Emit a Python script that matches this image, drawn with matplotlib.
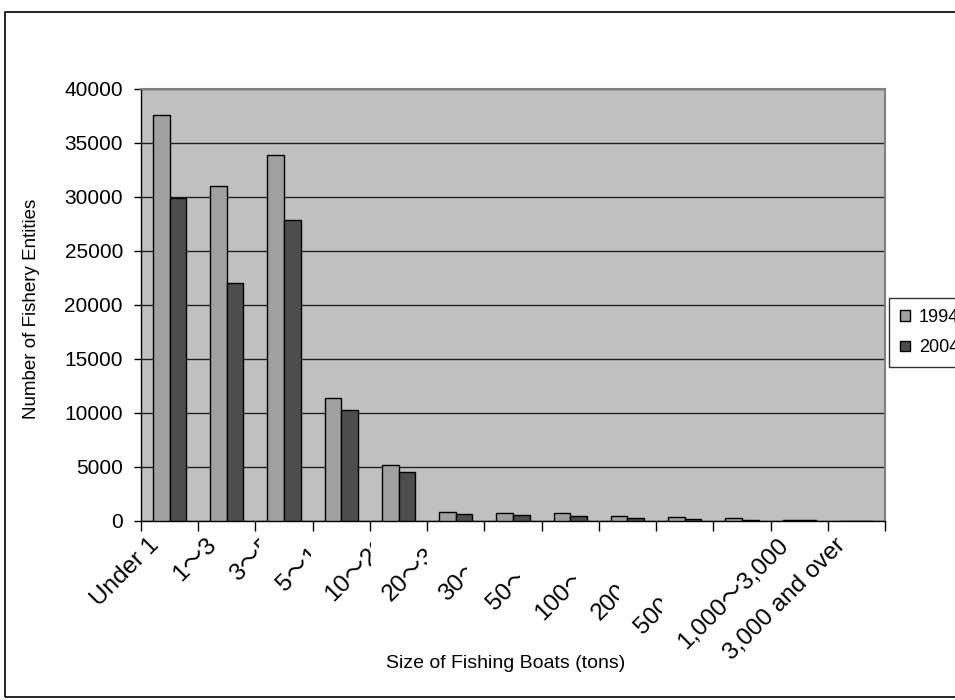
import matplotlib
matplotlib.use("Agg")
import matplotlib.pyplot as plt
import numpy as np
from matplotlib.patches import Rectangle
from matplotlib.transforms import Bbox, TransformedBbox, blended_transform_factory, ScaledTranslation

plt.rcParams['font.family'] = ['Liberation Sans', 'Noto Sans CJK JP', 'DejaVu Sans']

categories = ["Under 1", "1～3", "3～5", "5～10", "10～20", "20～30", "30～50",
              "50～100", "100～200", "200～500", "500～1,000", "1,000～3,000",
              "3,000 and over"]
series_names = ["1994", "2004"]
values_1994 = [37600, 31000, 33900, 11400, 5200, 800, 710, 710, 430, 340, 250, 130, 0]
values_2004 = [29900, 22000, 27900, 10300, 4500, 680, 560, 430, 310, 220, 120, 90, 0]
y_ticks = [0, 5000, 10000, 15000, 20000, 25000, 30000, 35000, 40000]

# right-edge clip (in category units) reproducing the truncated category labels
label_clip = [None, None, 1.56, 2.47, 3.52, 4.5, 5.2, 6.12, 7.1, 7.85, 8.6, None, None]

fig = plt.figure(figsize=(9.55, 7.0), dpi=100)
ax = fig.add_axes([141/955, 1-521/700, (885-141)/955, (521-89)/700])
ax.set_facecolor('#c0c0c0')

x = np.arange(len(categories))
w = 0.29
ax.bar(x - w/2, values_1994, w, color='#a0a0a0', edgecolor='black', linewidth=1.0,
       label=series_names[0], zorder=3)
ax.bar(x + w/2, values_2004, w, color='#4d4d4d', edgecolor='black', linewidth=1.0,
       label=series_names[1], zorder=3)

ax.set_xlim(-0.5, len(categories) - 0.5)
ax.set_ylim(0, 40000)
ax.set_yticks(y_ticks)
ax.set_yticklabels([str(v) for v in y_ticks], fontsize=15)
ax.yaxis.grid(True, color='#222222', linewidth=1.0, zorder=1)
ax.set_axisbelow(True)

# category boundaries carry the tick marks
ax.set_xticks(np.arange(-0.5, len(categories)), labels=[])
ax.tick_params(axis='x', which='major', length=7, width=1, color='black', direction='out')
ax.tick_params(axis='y', which='major', length=5, width=1, color='black', direction='out', pad=8)

# category labels, rotated and clipped like the original
ltrans = blended_transform_factory(ax.transData, ax.transAxes) + \
    ScaledTranslation(-22/100, -13/100, fig.dpi_scale_trans)
ctrans = blended_transform_factory(ax.transData, fig.transFigure)
for xi, name, clip in zip(x, categories, label_clip):
    t = fig.text(xi, 0, name, transform=ltrans, rotation=45, ha='right', va='top',
                 rotation_mode='anchor', fontsize=17.5)
    if clip is not None:
        t.set_clip_box(TransformedBbox(Bbox([[-5, 0], [clip, 1]]), ctrans))
        t.set_clip_on(True)

for side in ['top', 'right']:
    ax.spines[side].set_color('#808080')
    ax.spines[side].set_linewidth(1.5)
for side in ['left', 'bottom']:
    ax.spines[side].set_color('black')
    ax.spines[side].set_linewidth(1.0)

ax.set_ylabel("Number of Fishery Entities", fontsize=13.5)
ax.yaxis.set_label_coords(40/955, 0.49, transform=blended_transform_factory(fig.transFigure, ax.transAxes))
fig.text(506/955, 1-663/700, "Size of Fishing Boats (tons)", fontsize=14, ha='center', va='center')

leg = ax.legend(loc='upper left', bbox_to_anchor=(889/955, 1-298/700),
                bbox_transform=fig.transFigure, borderaxespad=0, frameon=True,
                fancybox=False, edgecolor='black', fontsize=13, handlelength=0.55,
                handleheight=0.55, labelspacing=0.75, borderpad=0.6, handletextpad=0.5)
leg.get_frame().set_linewidth(1.0)

fig.patches.append(Rectangle((5/955, 3/700), 1.0, 1-15/700, transform=fig.transFigure,
                             fill=False, edgecolor='black', linewidth=1.2))

fig.savefig("out.png", dpi=100)
